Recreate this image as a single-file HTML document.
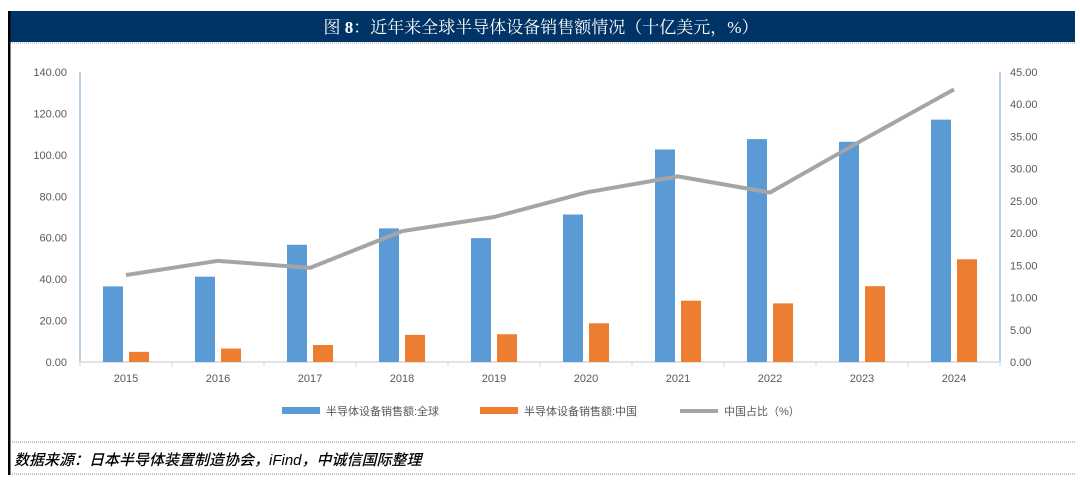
<!DOCTYPE html>
<html><head><meta charset="utf-8"><style>
body{margin:0;background:#fff;}
svg text{font-family:"Liberation Sans","Noto Sans CJK SC",sans-serif;}
</style></head><body>
<svg id="c" width="1080" height="481" xmlns="http://www.w3.org/2000/svg">
<rect x="0" y="0" width="1080" height="481" fill="#fff"/>
<rect x="8" y="11" width="1067" height="31" fill="#003366"/>
<line x1="8" y1="43" x2="1075" y2="43" stroke="#aaa" stroke-width="1" stroke-dasharray="1,1"/>
<text x="541" y="33" font-size="17" fill="#fff" text-anchor="middle" style="font-family:'Liberation Serif','Noto Serif CJK SC',serif">图 <tspan font-weight="bold">8</tspan>：近年来全球半导体设备销售额情况（十亿美元，%）</text>
<rect x="8" y="11" width="2.5" height="464" fill="#000"/>
<line x1="10" y1="442" x2="1075" y2="442" stroke="#888" stroke-dasharray="1,1"/>
<line x1="10" y1="474" x2="1075" y2="474" stroke="#888" stroke-dasharray="1,1"/>
<text x="14" y="465" font-size="15" font-style="italic" font-weight="500" fill="#000">数据来源：日本半导体装置制造协会，iFind，中诚信国际整理</text>
<g id="plot"></g>
</svg>
<script>
const categories=["2015","2016","2017","2018","2019","2020","2021","2022","2023","2024"];
const globalSales=[36.5,41.2,56.6,64.5,59.8,71.2,102.6,107.6,106.3,117.0];
const chinaSales=[4.9,6.5,8.2,13.1,13.4,18.7,29.6,28.3,36.6,49.6];
const chinaShare=[13.5,15.7,14.6,20.3,22.5,26.3,28.8,26.3,34.4,42.3];
const leftTicks=[0,20,40,60,80,100,120,140];
const rightTicks=[0,5,10,15,20,25,30,35,40,45];
const NS="http://www.w3.org/2000/svg";
const g=document.getElementById('plot');
const X0=80,X1=1000,Y0=362,Y1=72;
const yL=v=>Y0-(v/140)*(Y0-Y1);
const yR=v=>Y0-(v/45)*(Y0-Y1);
const band=(X1-X0)/categories.length;
const xc=i=>X0+band*(i+0.5);
function el(t,a){const e=document.createElementNS(NS,t);for(const k in a)e.setAttribute(k,a[k]);g.appendChild(e);return e;}
let e;
e=el('line',{x1:X0,y1:Y1,x2:X0,y2:Y0,stroke:'#9dc3e6','stroke-width':1.5});


e=el('line',{x1:X1,y1:Y1,x2:X1,y2:Y0,stroke:'#9dc3e6','stroke-width':1.5});


e=el('line',{x1:X0,y1:Y0,x2:X1,y2:Y0,stroke:'#d9d9d9','stroke-width':1.5});


leftTicks.forEach(v=>{e=el('text',{x:67,y:yL(v)+4,'font-size':11,fill:'#595959','text-anchor':'end'});e.textContent=v.toFixed(2);

});
rightTicks.forEach(v=>{e=el('text',{x:1010,y:yR(v)+4,'font-size':11,fill:'#595959'});e.textContent=v.toFixed(2);

});
for(let i=0;i<=categories.length;i++){el('line',{x1:X0+band*i,y1:Y0,x2:X0+band*i,y2:Y0+5,stroke:'#d9d9d9'});}
categories.forEach((c,i)=>{
e=el('text',{x:xc(i),y:Y0+20,'font-size':11,fill:'#595959','text-anchor':'middle'});e.textContent=c;


e=el('rect',{x:xc(i)-23,y:yL(globalSales[i]),width:20,height:Y0-yL(globalSales[i]),fill:'#5b9bd5'});


e=el('rect',{x:xc(i)+3,y:yL(chinaSales[i]),width:20,height:Y0-yL(chinaSales[i]),fill:'#ed7d31'});


});
e=el('polyline',{points:chinaShare.map((v,i)=>xc(i)+','+yR(v)).join(' '),fill:'none',stroke:'#a5a5a5','stroke-width':4,'stroke-linejoin':'round'});


const leg=[['#5b9bd5','半导体设备销售额:全球',282,'rect'],['#ed7d31','半导体设备销售额:中国',480,'rect'],['#a5a5a5','中国占比（%）',680,'line']];
leg.forEach(l=>{
if(l[3]==='rect'){e=el('rect',{x:l[2],y:407,width:38,height:7,fill:l[0]});}
else{e=el('line',{x1:l[2],y1:411,x2:l[2]+38,y2:411,stroke:l[0],'stroke-width':4});}


e=el('text',{x:l[2]+44,y:415,'font-size':11,fill:'#595959'});e.textContent=l[1];


});
</script>
</body></html>
